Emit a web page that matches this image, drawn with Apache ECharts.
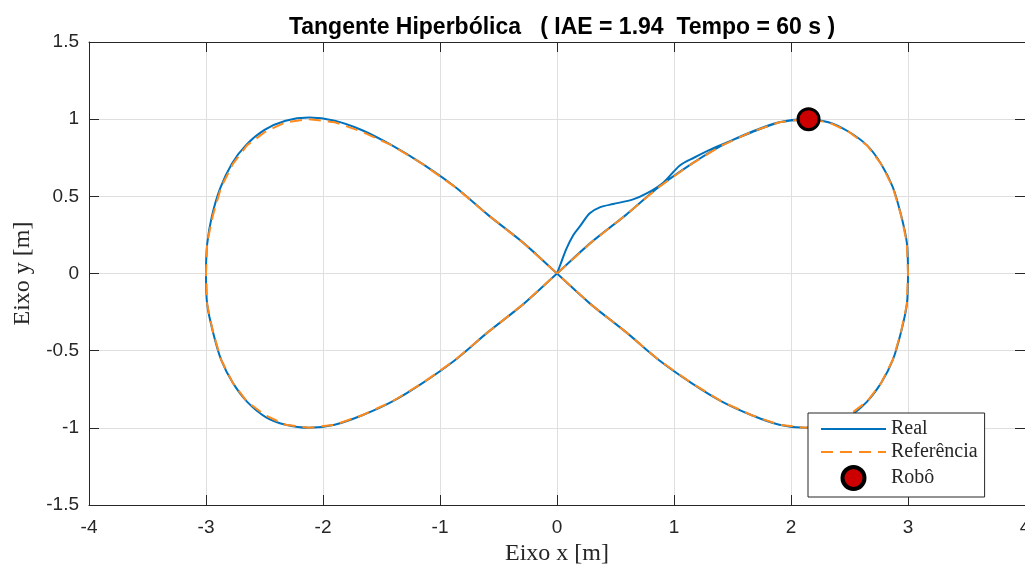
<!DOCTYPE html>
<html>
<head>
<meta charset="utf-8">
<script src="https://cdn.jsdelivr.net/npm/echarts@6/dist/echarts.min.js"></script>
<style>
  html, body { margin: 0; padding: 0; background: #fff; }
  #chart { width: 1025px; height: 565px; }
</style>
</head>
<body>
<div id="chart"></div>
<script>
  // trajetória de referência (lemniscata)
  var refX = [0, 0.29, 0.59, 0.87, 1.15, 1.41, 1.67, 1.90, 2.12, 2.32, 2.49, 2.65, 2.77, 2.87, 2.94, 2.99, 3.00,
    2.99, 2.94, 2.87, 2.77, 2.65, 2.49, 2.32, 2.12, 1.90, 1.67, 1.41, 1.15, 0.87, 0.59, 0.29, 0,
    -0.29, -0.59, -0.87, -1.15, -1.41, -1.67, -1.90, -2.12, -2.32, -2.49, -2.65, -2.77, -2.87, -2.94, -2.99, -3.00,
    -2.99, -2.94, -2.87, -2.77, -2.65, -2.49, -2.32, -2.12, -1.90, -1.67, -1.41, -1.15, -0.87, -0.59, -0.29, 0]
  var refY = [0, 0.20, 0.38, 0.56, 0.71, 0.83, 0.92, 0.98, 1.00, 0.98, 0.92, 0.83, 0.71, 0.56, 0.38, 0.20, 0,
    -0.20, -0.38, -0.56, -0.71, -0.83, -0.92, -0.98, -1.00, -0.98, -0.92, -0.83, -0.71, -0.56, -0.38, -0.20, 0,
    0.20, 0.38, 0.56, 0.71, 0.83, 0.92, 0.98, 1.00, 0.98, 0.92, 0.83, 0.71, 0.56, 0.38, 0.20, 0,
    -0.20, -0.38, -0.56, -0.71, -0.83, -0.92, -0.98, -1.00, -0.98, -0.92, -0.83, -0.71, -0.56, -0.38, -0.20, 0]

  // trajetória real do robô
  var realX = [0, 0.03, 0.08, 0.14, 0.20, 0.28, 0.37, 0.48, 0.65, 0.77, 0.91, 1.05, 1.17, 1.36, 1.65, 1.90, 2.12,
    2.32, 2.49, 2.65, 2.77, 2.87, 2.94, 2.99, 3.00, 2.99, 2.94, 2.87, 2.77, 2.65, 2.49, 2.32, 2.12,
    1.90, 1.67, 1.41, 1.15, 0.87, 0.59, 0.29, 0,
    -0.29, -0.59, -0.87, -1.15, -1.41, -1.67, -1.90, -2.12, -2.32, -2.50, -2.66, -2.78, -2.88, -2.95, -2.99, -3.00,
    -2.99, -2.94, -2.87, -2.77, -2.65, -2.49, -2.32, -2.12, -1.90, -1.67, -1.41, -1.15, -0.87, -0.59, -0.29, 0,
    0.29, 0.59, 0.87, 1.15, 1.41, 1.67, 1.90, 2.15]
  var realY = [0, 0.06, 0.16, 0.25, 0.31, 0.39, 0.43, 0.45, 0.48, 0.52, 0.59, 0.70, 0.75, 0.82, 0.91, 0.98, 1.00,
    0.98, 0.92, 0.83, 0.71, 0.56, 0.38, 0.20, 0, -0.20, -0.38, -0.56, -0.71, -0.83, -0.93, -0.98, -1.00,
    -0.98, -0.92, -0.83, -0.71, -0.56, -0.38, -0.20, 0,
    0.20, 0.38, 0.56, 0.71, 0.83, 0.93, 0.99, 1.01, 0.99, 0.93, 0.83, 0.71, 0.55, 0.37, 0.19, 0,
    -0.20, -0.38, -0.56, -0.71, -0.83, -0.93, -0.98, -1.00, -0.98, -0.92, -0.83, -0.71, -0.56, -0.38, -0.20, 0,
    0.20, 0.38, 0.56, 0.71, 0.83, 0.92, 0.98, 1.00]

  // posição final do robô
  var robotX = [2.15]
  var robotY = [1.00]

  var xTicks = [-4, -3, -2, -1, 0, 1, 2, 3, 4]
  var yTicks = [-1.5, -1, -0.5, 0, 0.5, 1, 1.5]

  function pairs(xs, ys) {
    var out = []
    for (var i = 0; i < xs.length; i++) {
      out.push([xs[i], ys[i]])
    }
    return out
  }

  var axisColor = '#262626'
  var sans = 'Liberation Sans, Arial, Helvetica, sans-serif'
  var serif = 'Liberation Serif, Times New Roman, serif'

  function frameAxis(pos, lo, hi, step) {
    return {
      type: 'value',
      position: pos,
      min: lo,
      max: hi,
      interval: step,
      axisLine: { onZero: false, lineStyle: { color: axisColor, width: 1 } },
      axisTick: { inside: true, length: 10, lineStyle: { color: axisColor } },
      axisLabel: { show: false },
      splitLine: { show: false }
    }
  }

  var chart = echarts.init(document.getElementById('chart'))
  chart.setOption({
    animation: false,
    backgroundColor: '#fff',
    title: {
      text: 'Tangente Hiperbólica   ( IAE = 1.94  Tempo = 60 s )',
      left: 557,
      top: 11,
      textAlign: 'center',
      textStyle: {
        fontFamily: sans,
        fontWeight: 'bold',
        fontSize: 23,
        color: '#000'
      }
    },
    legend: {
      orient: 'vertical',
      left: 808,
      top: 413,
      padding: [6, 7, 6, 12],
      itemWidth: 65,
      itemHeight: 22,
      itemGap: 3,
      backgroundColor: '#fff',
      borderColor: axisColor,
      borderWidth: 1,
      borderRadius: 0,
      textStyle: {
        fontFamily: serif,
        fontSize: 20,
        color: axisColor
      },
      data: [
        { name: 'Real', itemStyle: { opacity: 0 } },
        { name: 'Referência', itemStyle: { opacity: 0 } },
        { name: 'Robô', itemStyle: { borderWidth: 4 } }
      ]
    },
    grid: {
      left: 89,
      right: 0,
      top: 42,
      bottom: 60,
      containLabel: false,
      outerBoundsMode: 'none'
    },
    xAxis: [{
      type: 'value',
      min: xTicks[0],
      max: xTicks[xTicks.length - 1],
      interval: 1,
      name: 'Eixo x [m]',
      nameLocation: 'middle',
      nameGap: 36,
      nameTextStyle: { fontFamily: serif, fontSize: 24, color: axisColor },
      axisLine: { onZero: false, lineStyle: { color: axisColor, width: 1 } },
      axisTick: { inside: true, length: 10, lineStyle: { color: axisColor } },
      axisLabel: { fontFamily: sans, fontSize: 19, color: axisColor, margin: 13 },
      splitLine: { show: true, lineStyle: { color: '#dfdfdf', width: 1 } }
    }, frameAxis('top', xTicks[0], xTicks[xTicks.length - 1], 1)],
    yAxis: [{
      type: 'value',
      min: yTicks[0],
      max: yTicks[yTicks.length - 1],
      interval: 0.5,
      name: 'Eixo y [m]',
      nameLocation: 'middle',
      nameGap: 54,
      nameTextStyle: { fontFamily: serif, fontSize: 24, color: axisColor },
      axisLine: { onZero: false, lineStyle: { color: axisColor, width: 1 } },
      axisTick: { inside: true, length: 10, lineStyle: { color: axisColor } },
      axisLabel: { fontFamily: sans, fontSize: 19, color: axisColor, margin: 10 },
      splitLine: { show: true, lineStyle: { color: '#dfdfdf', width: 1 } }
    }, frameAxis('right', yTicks[0], yTicks[yTicks.length - 1], 0.5)],
    series: [{
      name: 'Real',
      type: 'line',
      smooth: 0.3,
      symbol: 'none',
      lineStyle: { color: '#0072BD', width: 2 },
      itemStyle: { color: '#0072BD' },
      data: pairs(realX, realY)
    }, {
      name: 'Referência',
      type: 'line',
      symbol: 'none',
      lineStyle: { color: '#FF8A1C', width: 2, type: [12, 7] },
      itemStyle: { color: '#FF8A1C' },
      data: pairs(refX, refY)
    }, {
      name: 'Robô',
      type: 'scatter',
      symbol: 'circle',
      symbolSize: 21,
      itemStyle: { color: '#CC0000', borderColor: '#000', borderWidth: 3, opacity: 1 },
      z: 5,
      data: pairs(robotX, robotY)
    }]
  })
</script>
</body>
</html>
